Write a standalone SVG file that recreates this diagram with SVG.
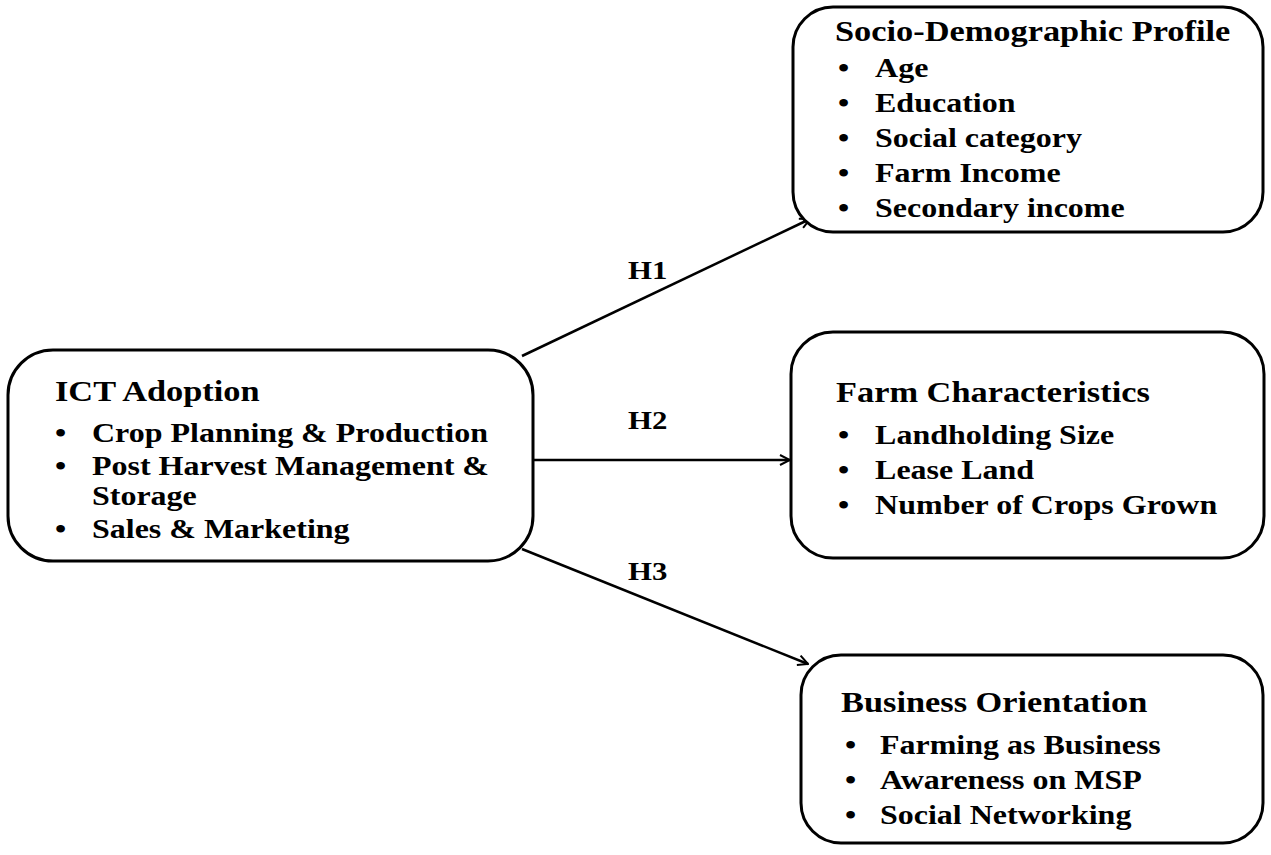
<svg xmlns="http://www.w3.org/2000/svg" width="1271" height="855" viewBox="0 0 1271 855">
<style>
.box{fill:#fff;stroke:#000;stroke-width:3}
.t{font-family:"Liberation Serif","Times New Roman",serif;font-weight:bold;font-size:27px;fill:#000}
.h{font-size:29px}
.l{font-size:26px}
.c{stroke:#000;stroke-width:2.5;fill:none}
</style>
<defs>
<marker id="ah" viewBox="0 0 12 12" refX="11" refY="6" markerWidth="12" markerHeight="12" markerUnits="userSpaceOnUse" orient="auto">
<path d="M1,1 L11,6 L1,11" fill="none" stroke="#000" stroke-width="2"/>
</marker>
</defs>
<rect width="1271" height="855" fill="#fff"/>
<g id="connectors">
<line class="c" x1="522" y1="356" x2="810" y2="219" marker-end="url(#ah)"/>
<line class="c" x1="533" y1="460" x2="790" y2="460" marker-end="url(#ah)"/>
<line class="c" x1="522" y1="549" x2="808" y2="664" marker-end="url(#ah)"/>
<g transform="translate(628,0) scale(1.185,1)">
<text class="t l" x="0" y="279">H1</text>
<text class="t l" x="0" y="429">H2</text>
<text class="t l" x="0" y="580">H3</text>
</g>
</g>
<g id="ict">
<rect class="box" x="8" y="350" width="525" height="211" rx="45"/>
<g transform="translate(55,0) scale(1.185,1)">
<text class="t h" x="0" y="401">ICT Adoption</text>
<text class="t" x="0" y="442">•</text><text class="t" x="31.2" y="442">Crop Planning &amp; Production</text>
<text class="t" x="0" y="475">•</text><text class="t" x="31.2" y="475">Post Harvest Management &amp;</text>
<text class="t" x="31.2" y="505">Storage</text>
<text class="t" x="0" y="538">•</text><text class="t" x="31.2" y="538">Sales &amp; Marketing</text>
</g>
</g>
<g id="socio">
<rect class="box" x="793" y="7" width="470" height="225" rx="40"/>
<g transform="translate(835,0) scale(1.185,1)">
<text class="t h" x="0" y="41">Socio-Demographic Profile</text>
<text class="t" x="2.5" y="77">•</text><text class="t" x="33.8" y="77">Age</text>
<text class="t" x="2.5" y="112">•</text><text class="t" x="33.8" y="112">Education</text>
<text class="t" x="2.5" y="147">•</text><text class="t" x="33.8" y="147">Social category</text>
<text class="t" x="2.5" y="182">•</text><text class="t" x="33.8" y="182">Farm Income</text>
<text class="t" x="2.5" y="217">•</text><text class="t" x="33.8" y="217">Secondary income</text>
</g>
</g>
<g id="farm">
<rect class="box" x="791" y="332" width="473" height="226" rx="42"/>
<g transform="translate(836,0) scale(1.185,1)">
<text class="t h" x="0" y="402">Farm Characteristics</text>
<text class="t" x="1.7" y="444">•</text><text class="t" x="33" y="444">Landholding Size</text>
<text class="t" x="1.7" y="479">•</text><text class="t" x="33" y="479">Lease Land</text>
<text class="t" x="1.7" y="514">•</text><text class="t" x="33" y="514">Number of Crops Grown</text>
</g>
</g>
<g id="business">
<rect class="box" x="801" y="655" width="462" height="188" rx="40"/>
<g transform="translate(841,0) scale(1.185,1)">
<text class="t h" x="0" y="712">Business Orientation</text>
<text class="t" x="3.4" y="754">•</text><text class="t" x="32.9" y="754">Farming as Business</text>
<text class="t" x="3.4" y="789">•</text><text class="t" x="32.9" y="789">Awareness on MSP</text>
<text class="t" x="3.4" y="824">•</text><text class="t" x="32.9" y="824">Social Networking</text>
</g>
</g>
</svg>
